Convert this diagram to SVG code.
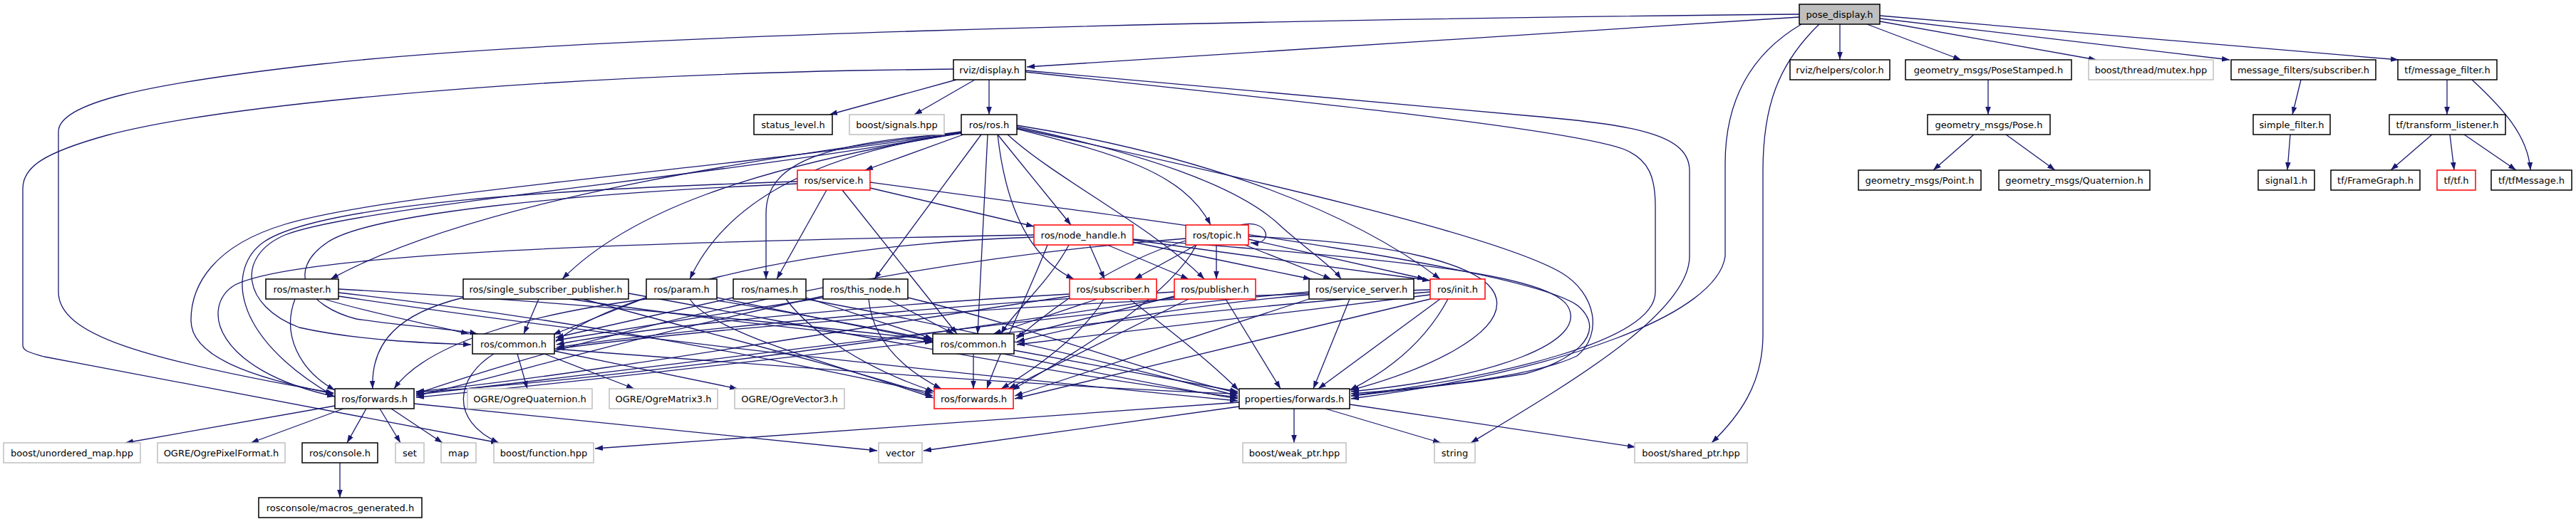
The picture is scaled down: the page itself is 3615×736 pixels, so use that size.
<svg xmlns="http://www.w3.org/2000/svg" width="3615" height="736" viewBox="0 0 3615 736">
<style>
.n rect{fill:#fff;stroke:#000;stroke-width:1.5}
.n.r rect{stroke:#ff0000}
.n.g rect{stroke:#bfbfbf}
.n.root rect{fill:#bfbfbf}
.n text{font-family:"DejaVu Sans","Liberation Sans",sans-serif;font-size:13px;text-anchor:middle;fill:#000}
#edges path{fill:none;stroke:#191970;stroke-width:1.3;marker-end:url(#a)}
</style>
<defs>
<marker id="a" viewBox="0 0 10 7" refX="10" refY="3.5" markerWidth="11" markerHeight="8" markerUnits="userSpaceOnUse" orient="auto">
<path d="M0,0 L10,3.5 L0,7 z" fill="#191970"/>
</marker>
</defs>
<rect width="3615" height="736" fill="#fff"/>
<g id="edges">
<path d="M2525,24 L1441,94"/>
<path d="M2582,34 L2582,84"/>
<path d="M2620,34 L2752,84"/>
<path d="M2638,30 L2942,84"/>
<path d="M2638,26 L3129,84"/>
<path d="M2638,22 L3366,84"/>
<path d="M2790,112 L2790,161"/>
<path d="M2770,189 L2713,239"/>
<path d="M2815,189 L2884,239"/>
<path d="M3229,112 L3217,161"/>
<path d="M3214,189 L3210,239"/>
<path d="M3434,112 L3434,161"/>
<path d="M3469,112 C3510,150 3548,190 3551,239"/>
<path d="M3413,189 L3355,239"/>
<path d="M3438,189 L3444,239"/>
<path d="M3458,189 L3531,239"/>
<path d="M2525,20 C1700,28 800,50 450,90 C200,118 82,145 82,185 L82,410 C82,470 200,505 468,552"/>
<path d="M1338,97 L1200,99 C700,110 300,150 150,190 C60,215 32,235 32,265 L32,485 C32,494 46,496 62,501 L700,622"/>
<path d="M2528,34 C2450,80 2421,150 2421,230 L2421,360 C2410,440 2200,520 1896,560"/>
<path d="M2553,34 C2495,90 2474,150 2474,240 L2474,470 C2474,540 2440,585 2402,622"/>
<path d="M1342,112 L1164,161"/>
<path d="M1368,112 L1283,161"/>
<path d="M1388,112 L1388,161"/>
<path d="M1439,101 C1800,140 2200,180 2280,210 C2315,225 2323,250 2323,290 L2323,410 C2323,480 2100,530 1896,556"/>
<path d="M1439,99 L2150,163 C2300,176 2371,190 2371,240 L2371,360 C2371,440 2200,540 2064,622"/>
<path d="M1352,189 L1214,239"/>
<path d="M1400,189 L1503,316"/>
<path d="M1427,181 C1560,215 1660,240 1699,316"/>
<path d="M1414,189 C1480,250 1620,320 1690,392"/>
<path d="M1400,189 C1410,280 1440,360 1507,392"/>
<path d="M1377,189 L1227,392"/>
<path d="M1386,189 L1372,469"/>
<path d="M1427,178 C1600,215 1740,260 1800,320 C1840,355 1870,375 1882,392"/>
<path d="M1427,176 C1700,220 1900,300 2021,392"/>
<path d="M1427,180 C1750,250 2100,330 2191,383 C2240,412 2250,470 2213,500 C2150,530 2000,545 1896,553"/>
<path d="M1349,185 C1000,230 650,290 464,392"/>
<path d="M1349,187 C1050,235 880,300 789,392"/>
<path d="M1349,187 C1150,215 1020,280 968,392"/>
<path d="M1349,187 C1150,200 1075,230 1075,300 L1075,392"/>
<path d="M1349,186 C1000,240 550,270 400,315 C300,345 268,400 268,450 C268,500 350,530 468,553"/>
<path d="M1349,186 C1000,250 500,290 400,330 C330,360 340,430 420,460 C500,478 600,482 661,484"/>
<path d="M1221,264 L1451,318"/>
<path d="M1160,267 L1090,392"/>
<path d="M1182,267 L1343,469"/>
<path d="M1119,255 C800,265 450,285 370,340 C320,375 320,470 468,556"/>
<path d="M1119,258 C800,272 520,300 460,340 C400,380 430,430 500,448 C580,460 640,462 670,469"/>
<path d="M1221,256 C1700,320 2150,380 2215,430 C2260,470 2200,510 2140,525 C2050,540 1950,550 1896,556"/>
<path d="M1529,344 L1550,392"/>
<path d="M1554,344 L1668,392"/>
<path d="M1590,340 L1840,392"/>
<path d="M1590,337 L2007,394"/>
<path d="M1500,344 C1470,400 1420,440 1405,469"/>
<path d="M1470,344 C1440,420 1400,500 1385,546"/>
<path d="M1451,333 C1100,345 850,420 780,480"/>
<path d="M1451,330 C900,340 420,355 330,400 C280,430 300,520 470,557"/>
<path d="M1590,336 C1900,360 2170,380 2200,430 C2230,480 2100,530 1896,550"/>
<path d="M1741,316 C1780,306 1790,345 1755,341"/>
<path d="M1679,344 L1592,392"/>
<path d="M1707,344 L1707,392"/>
<path d="M1747,344 L1868,392"/>
<path d="M1752,336 L2000,392"/>
<path d="M1664,338 C1560,370 1480,430 1426,476"/>
<path d="M1679,344 C1640,420 1500,500 1420,548"/>
<path d="M1664,335 C1200,370 800,480 584,553"/>
<path d="M1752,332 C1950,340 2090,370 2100,420 C2110,470 2000,520 1896,548"/>
<path d="M414,420 C395,470 420,520 470,548"/>
<path d="M455,420 C520,440 600,455 658,469"/>
<path d="M475,406 C900,430 1150,460 1307,477"/>
<path d="M475,411 C900,460 1200,530 1309,552"/>
<path d="M475,416 C900,480 1400,530 1737,563"/>
<path d="M756,420 L735,469"/>
<path d="M650,418 C560,440 520,480 523,546"/>
<path d="M800,420 C1000,450 1200,470 1309,481"/>
<path d="M818,420 C1000,470 1200,520 1309,556"/>
<path d="M882,412 C1200,470 1500,530 1737,558"/>
<path d="M907,418 L776,470"/>
<path d="M907,420 C750,440 600,480 553,546"/>
<path d="M1006,418 L1309,479"/>
<path d="M968,420 C1000,470 1200,520 1310,559"/>
<path d="M1006,422 C1300,470 1550,530 1737,560"/>
<path d="M1029,418 L780,474"/>
<path d="M1131,418 L1309,476"/>
<path d="M1103,420 C1140,470 1220,520 1311,550"/>
<path d="M1131,420 C1400,470 1600,520 1737,556"/>
<path d="M1155,418 L780,478"/>
<path d="M1245,420 L1339,469"/>
<path d="M1219,420 C1225,480 1270,520 1321,546"/>
<path d="M1155,416 C900,470 700,530 584,556"/>
<path d="M1274,418 C1450,460 1600,520 1737,552"/>
<path d="M1501,413 C1200,430 900,460 781,484"/>
<path d="M1540,420 L1394,469"/>
<path d="M1549,420 C1520,470 1450,520 1405,546"/>
<path d="M1501,416 C1200,460 800,530 584,550"/>
<path d="M1585,420 C1650,470 1700,510 1738,548"/>
<path d="M1648,416 L1426,472"/>
<path d="M1668,420 L1415,546"/>
<path d="M1648,418 C1300,470 900,530 584,551"/>
<path d="M1648,410 C1300,430 900,470 781,488"/>
<path d="M1720,420 L1797,546"/>
<path d="M1837,414 C1650,430 1500,460 1427,480"/>
<path d="M1837,420 L1424,556"/>
<path d="M1837,410 C1400,450 900,520 584,554"/>
<path d="M1894,420 L1843,546"/>
<path d="M2007,414 C1800,440 1550,470 1427,484"/>
<path d="M2007,420 L1424,560"/>
<path d="M2007,410 C1500,450 900,530 584,558"/>
<path d="M2007,407 C1500,420 1000,460 781,490"/>
<path d="M2021,420 L1850,546"/>
<path d="M2032,420 C2000,480 1950,520 1894,548"/>
<path d="M693,497 C640,530 630,590 700,622"/>
<path d="M726,497 L740,546"/>
<path d="M764,497 L890,546"/>
<path d="M778,493 L1035,546"/>
<path d="M778,490 C1100,515 1500,545 1737,553"/>
<path d="M1366,497 L1366,546"/>
<path d="M1423,492 L1737,550"/>
<path d="M470,570 L176,622"/>
<path d="M482,574 L352,622"/>
<path d="M514,574 L487,622"/>
<path d="M533,574 L562,622"/>
<path d="M549,574 L621,622"/>
<path d="M581,567 L1231,633"/>
<path d="M477,650 L477,699"/>
<path d="M1739,565 L835,630"/>
<path d="M1739,571 L1296,633"/>
<path d="M1816,574 L1816,622"/>
<path d="M1860,574 L2022,622"/>
<path d="M1894,568 L2295,628"/>
</g>
<g id="n0" class="n root"><rect x="2525" y="6" width="113" height="28"/><text x="2581.5" y="24.5">pose_display.h</text></g>
<g id="n1" class="n"><rect x="1338" y="84" width="101" height="28"/><text x="1388.5" y="102.5">rviz/display.h</text></g>
<g id="n2" class="n"><rect x="2512" y="84" width="140" height="28"/><text x="2582" y="102.5">rviz/helpers/color.h</text></g>
<g id="n3" class="n"><rect x="2674" y="84" width="233" height="28"/><text x="2790.5" y="102.5">geometry_msgs/PoseStamped.h</text></g>
<g id="n4" class="n g"><rect x="2931" y="84" width="175" height="28"/><text x="3018.5" y="102.5">boost/thread/mutex.hpp</text></g>
<g id="n5" class="n"><rect x="3131" y="84" width="203" height="28"/><text x="3232.5" y="102.5">message_filters/subscriber.h</text></g>
<g id="n6" class="n"><rect x="3365" y="84" width="139" height="28"/><text x="3434.5" y="102.5">tf/message_filter.h</text></g>
<g id="n7" class="n"><rect x="1058" y="161" width="110" height="28"/><text x="1113" y="179.5">status_level.h</text></g>
<g id="n8" class="n g"><rect x="1192" y="161" width="133" height="28"/><text x="1258.5" y="179.5">boost/signals.hpp</text></g>
<g id="n9" class="n"><rect x="1349" y="161" width="78" height="28"/><text x="1388" y="179.5">ros/ros.h</text></g>
<g id="n10" class="n"><rect x="2705" y="161" width="172" height="28"/><text x="2791" y="179.5">geometry_msgs/Pose.h</text></g>
<g id="n11" class="n"><rect x="3162" y="161" width="108" height="28"/><text x="3216" y="179.5">simple_filter.h</text></g>
<g id="n12" class="n"><rect x="3353" y="161" width="163" height="28"/><text x="3434.5" y="179.5">tf/transform_listener.h</text></g>
<g id="n13" class="n r"><rect x="1119" y="239" width="102" height="28"/><text x="1170" y="257.5">ros/service.h</text></g>
<g id="n14" class="n"><rect x="2608" y="239" width="172" height="28"/><text x="2694" y="257.5">geometry_msgs/Point.h</text></g>
<g id="n15" class="n"><rect x="2805" y="239" width="212" height="28"/><text x="2911" y="257.5">geometry_msgs/Quaternion.h</text></g>
<g id="n16" class="n"><rect x="3169" y="239" width="79" height="28"/><text x="3208.5" y="257.5">signal1.h</text></g>
<g id="n17" class="n"><rect x="3271" y="239" width="125" height="28"/><text x="3333.5" y="257.5">tf/FrameGraph.h</text></g>
<g id="n18" class="n r"><rect x="3420" y="239" width="54" height="28"/><text x="3447" y="257.5">tf/tf.h</text></g>
<g id="n19" class="n"><rect x="3496" y="239" width="113" height="28"/><text x="3552.5" y="257.5">tf/tfMessage.h</text></g>
<g id="n20" class="n r"><rect x="1451" y="316" width="139" height="28"/><text x="1520.5" y="334.5">ros/node_handle.h</text></g>
<g id="n21" class="n r"><rect x="1664" y="316" width="88" height="28"/><text x="1708" y="334.5">ros/topic.h</text></g>
<g id="n22" class="n"><rect x="373" y="392" width="102" height="28"/><text x="424" y="410.5">ros/master.h</text></g>
<g id="n23" class="n"><rect x="650" y="392" width="232" height="28"/><text x="766" y="410.5">ros/single_subscriber_publisher.h</text></g>
<g id="n24" class="n"><rect x="907" y="392" width="99" height="28"/><text x="956.5" y="410.5">ros/param.h</text></g>
<g id="n25" class="n"><rect x="1029" y="392" width="102" height="28"/><text x="1080" y="410.5">ros/names.h</text></g>
<g id="n26" class="n"><rect x="1155" y="392" width="119" height="28"/><text x="1214.5" y="410.5">ros/this_node.h</text></g>
<g id="n27" class="n r"><rect x="1501" y="392" width="122" height="28"/><text x="1562" y="410.5">ros/subscriber.h</text></g>
<g id="n28" class="n r"><rect x="1648" y="392" width="114" height="28"/><text x="1705" y="410.5">ros/publisher.h</text></g>
<g id="n29" class="n"><rect x="1837" y="392" width="147" height="28"/><text x="1910.5" y="410.5">ros/service_server.h</text></g>
<g id="n30" class="n r"><rect x="2007" y="392" width="77" height="28"/><text x="2045.5" y="410.5">ros/init.h</text></g>
<g id="n31" class="n"><rect x="663" y="469" width="115" height="28"/><text x="720.5" y="487.5">ros/common.h</text></g>
<g id="n32" class="n"><rect x="1309" y="469" width="114" height="28"/><text x="1366" y="487.5">ros/common.h</text></g>
<g id="n33" class="n"><rect x="470" y="546" width="111" height="28"/><text x="525.5" y="564.5">ros/forwards.h</text></g>
<g id="n34" class="n g"><rect x="656" y="546" width="175" height="28"/><text x="743.5" y="564.5">OGRE/OgreQuaternion.h</text></g>
<g id="n35" class="n g"><rect x="855" y="546" width="152" height="28"/><text x="931" y="564.5">OGRE/OgreMatrix3.h</text></g>
<g id="n36" class="n g"><rect x="1031" y="546" width="154" height="28"/><text x="1108" y="564.5">OGRE/OgreVector3.h</text></g>
<g id="n37" class="n r"><rect x="1311" y="546" width="111" height="28"/><text x="1366.5" y="564.5">ros/forwards.h</text></g>
<g id="n38" class="n"><rect x="1739" y="546" width="155" height="28"/><text x="1816.5" y="564.5">properties/forwards.h</text></g>
<g id="n39" class="n g"><rect x="5" y="622" width="192" height="28"/><text x="101" y="640.5">boost/unordered_map.hpp</text></g>
<g id="n40" class="n g"><rect x="221" y="622" width="179" height="28"/><text x="310.5" y="640.5">OGRE/OgrePixelFormat.h</text></g>
<g id="n41" class="n"><rect x="424" y="622" width="106" height="28"/><text x="477" y="640.5">ros/console.h</text></g>
<g id="n42" class="n g"><rect x="555" y="622" width="40" height="28"/><text x="575" y="640.5">set</text></g>
<g id="n43" class="n g"><rect x="619" y="622" width="49" height="28"/><text x="643.5" y="640.5">map</text></g>
<g id="n44" class="n g"><rect x="693" y="622" width="140" height="28"/><text x="763" y="640.5">boost/function.hpp</text></g>
<g id="n45" class="n g"><rect x="1233" y="622" width="61" height="28"/><text x="1263.5" y="640.5">vector</text></g>
<g id="n46" class="n g"><rect x="1744" y="622" width="145" height="28"/><text x="1816.5" y="640.5">boost/weak_ptr.hpp</text></g>
<g id="n47" class="n g"><rect x="2013" y="622" width="57" height="28"/><text x="2041.5" y="640.5">string</text></g>
<g id="n48" class="n g"><rect x="2294" y="622" width="158" height="28"/><text x="2373" y="640.5">boost/shared_ptr.hpp</text></g>
<g id="n49" class="n"><rect x="363" y="699" width="229" height="28"/><text x="477.5" y="717.5">rosconsole/macros_generated.h</text></g>
</svg>
